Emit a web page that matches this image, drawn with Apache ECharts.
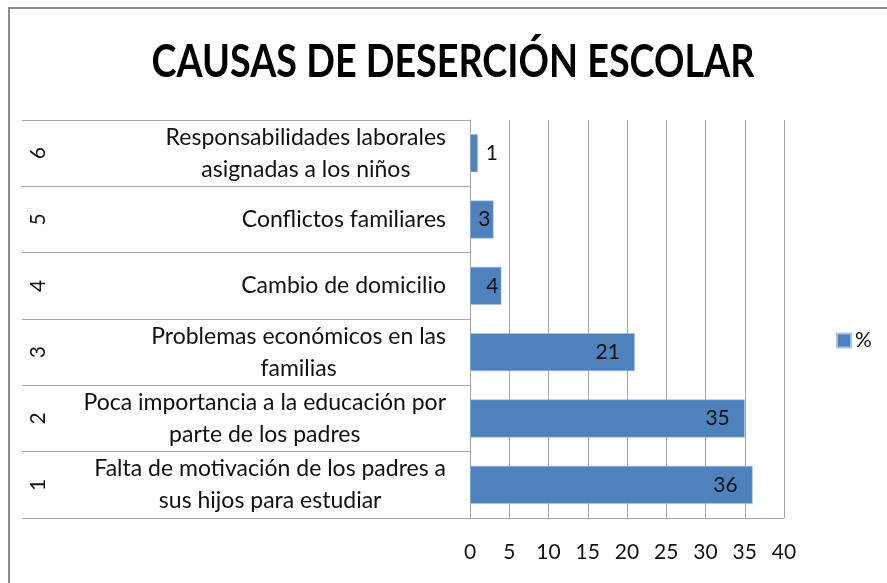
<!DOCTYPE html>
<html>
<head>
<meta charset="utf-8">
<script src="https://cdn.jsdelivr.net/npm/echarts@6/dist/echarts.min.js"></script>
<style>
html,body{margin:0;padding:0;background:#fff;}
#c{width:887px;height:583px;}
</style>
</head>
<body>
<div id="c"></div>
<script>
var titleText = 'CAUSAS DE DESERCIÓN ESCOLAR';
var causes = [
  'Falta de motivación de los padres a\nsus hijos para estudiar',
  'Poca importancia a la educación por\nparte de los padres',
  'Problemas económicos en las\nfamilias',
  'Cambio de domicilio',
  'Conflictos familiares',
  'Responsabilidades laborales\nasignadas a los niños'
];
var causeNumbers = ['1', '2', '3', '4', '5', '6'];
var percentValues = [36, 35, 21, 4, 3, 1];
var seriesName = '%';
var xTicks = [0, 40, 5];

var chart = echarts.init(document.getElementById('c'));
var barData = percentValues.map(function (v) {
  if (v < 2) return { value: v, label: { position: 'right', distance: 8 } };
  if (v < 10) return { value: v, label: { distance: 3 } };
  return v;
});
var gray = '#a6a6a6';
var txt = '#111';
var catFont = { fontFamily: 'Lato, sans-serif', fontSize: 23, lineHeight: 32, color: txt };
var option = {
  backgroundColor: '#fff',
  animation: false,
  legend: {
    data: [seriesName],
    left: 831,
    top: 325,
    itemWidth: 14,
    itemHeight: 14,
    itemGap: 4,
    icon: 'rect',
    textStyle: { fontFamily: 'Lato, sans-serif', fontSize: 21, color: txt, padding: [0, 0, 0, -1] }
  },
  grid: { left: 470, right: 103, top: 120, bottom: 65, containLabel: false },
  xAxis: {
    type: 'value',
    min: xTicks[0],
    max: xTicks[1],
    interval: xTicks[2],
    axisLine: { show: true, lineStyle: { color: gray, width: 1 } },
    axisTick: { show: false },
    splitLine: { show: true, lineStyle: { color: gray, width: 1 } },
    axisLabel: { fontFamily: 'Lato, sans-serif', fontSize: 21, color: txt, margin: 24 }
  },
  yAxis: [
    {
      type: 'category',
      data: causes,
      position: 'left',
      axisLine: { show: true, lineStyle: { color: gray, width: 1 } },
      axisTick: { show: true, length: 448, lineStyle: { color: gray, width: 1 } },
      axisLabel: {
        fontFamily: catFont.fontFamily,
        fontSize: catFont.fontSize,
        lineHeight: catFont.lineHeight,
        color: txt,
        margin: 24,
        align: 'right',
        formatter: function (v) {
          return v.split('\n').map(function (l) { return '{c|' + l + '}'; }).join('\n');
        },
        rich: {
          c: {
            align: 'center',
            fontFamily: catFont.fontFamily,
            fontSize: catFont.fontSize,
            lineHeight: catFont.lineHeight,
            color: txt
          }
        }
      }
    },
    {
      type: 'category',
      data: causeNumbers,
      position: 'left',
      offset: 421,
      axisLine: { show: false },
      axisTick: { show: false },
      axisLabel: {
        rotate: 90,
        fontFamily: 'Lato, sans-serif',
        fontSize: 21,
        color: txt,
        margin: 0
      }
    }
  ],
  series: [
    {
      name: seriesName,
      type: 'bar',
      yAxisIndex: 0,
      data: barData,
      barWidth: 38,
      itemStyle: { color: '#4f81bd', borderColor: '#a9c1e0', borderWidth: 0.6 },
      label: {
        show: true,
        position: 'insideRight',
        distance: 15,
        fontFamily: 'Lato, sans-serif',
        fontSize: 21,
        color: txt
      }
    }
  ],
  graphic: [
    {
      type: 'rect',
      shape: { x: 9, y: 8, width: 900, height: 600 },
      style: { fill: 'none', stroke: '#8c8c8c', lineWidth: 2 },
      silent: true
    },
    {
      type: 'text',
      x: 453,
      y: 62,
      scaleX: 0.82,
      silent: true,
      style: {
        text: titleText,
        align: 'center',
        verticalAlign: 'middle',
        fontFamily: 'Lato, sans-serif',
        fontWeight: 'bold',
        fontSize: 46,
        fill: '#000'
      }
    }
  ]
};
chart.setOption(option);
</script>
</body>
</html>
